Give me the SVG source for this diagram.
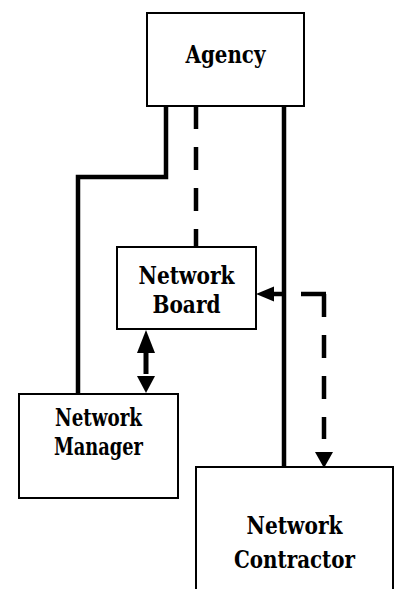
<svg xmlns="http://www.w3.org/2000/svg" width="398" height="589" viewBox="0 0 398 589">
<style>
.box{fill:#fff;stroke:#000;stroke-width:2}
.lbl{font-family:"DejaVu Serif","Liberation Serif",serif;font-weight:bold;font-size:25px;fill:#000;text-anchor:middle}
.ln{fill:none;stroke:#000;stroke-width:4.5}
.dash{fill:none;stroke:#000;stroke-width:4.5;stroke-dasharray:23 18}
.head{fill:#000;stroke:none}
</style>
<rect width="398" height="589" fill="#fff"/>
<g id="connectors">
<polyline class="ln" points="166,106 166,177 78,177 78,394"/>
<line class="dash" x1="196" y1="106" x2="196" y2="247"/>
<line class="ln" x1="284" y1="106" x2="284" y2="467"/>
<line class="ln" x1="284" y1="294" x2="272" y2="294"/>
<polygon class="head" points="256,294 274,286.5 274,301.5"/>
<line class="ln" x1="301" y1="294" x2="326" y2="294"/>
<line class="dash" x1="324" y1="294" x2="324" y2="439"/>
<polygon class="head" points="324,468 315,452 333,452"/>
<line x1="146" y1="350" x2="146" y2="374" stroke="#000" stroke-width="5"/>
<polygon class="head" points="146,330 137,353 155,353"/>
<polygon class="head" points="146,393 137,376 155,376"/>
</g>
<g id="agency">
<rect class="box" x="147" y="13" width="157" height="93"/>
<text class="lbl" x="225.5" y="63" textLength="80" lengthAdjust="spacingAndGlyphs">Agency</text>
</g>
<g id="network-board">
<rect class="box" x="117" y="247" width="139" height="82"/>
<text class="lbl" x="186.5" y="284" textLength="96" lengthAdjust="spacingAndGlyphs">Network</text>
<text class="lbl" x="186.5" y="313" textLength="68" lengthAdjust="spacingAndGlyphs">Board</text>
</g>
<g id="network-manager">
<rect class="box" x="19" y="394" width="159" height="104"/>
<text class="lbl" x="98.5" y="426" textLength="87" lengthAdjust="spacingAndGlyphs">Network</text>
<text class="lbl" x="98.5" y="455" textLength="89" lengthAdjust="spacingAndGlyphs">Manager</text>
</g>
<g id="network-contractor">
<rect class="box" x="196" y="467" width="197" height="130"/>
<text class="lbl" x="294.5" y="534" textLength="96" lengthAdjust="spacingAndGlyphs">Network</text>
<text class="lbl" x="294.5" y="568" textLength="121" lengthAdjust="spacingAndGlyphs">Contractor</text>
</g>
</svg>
